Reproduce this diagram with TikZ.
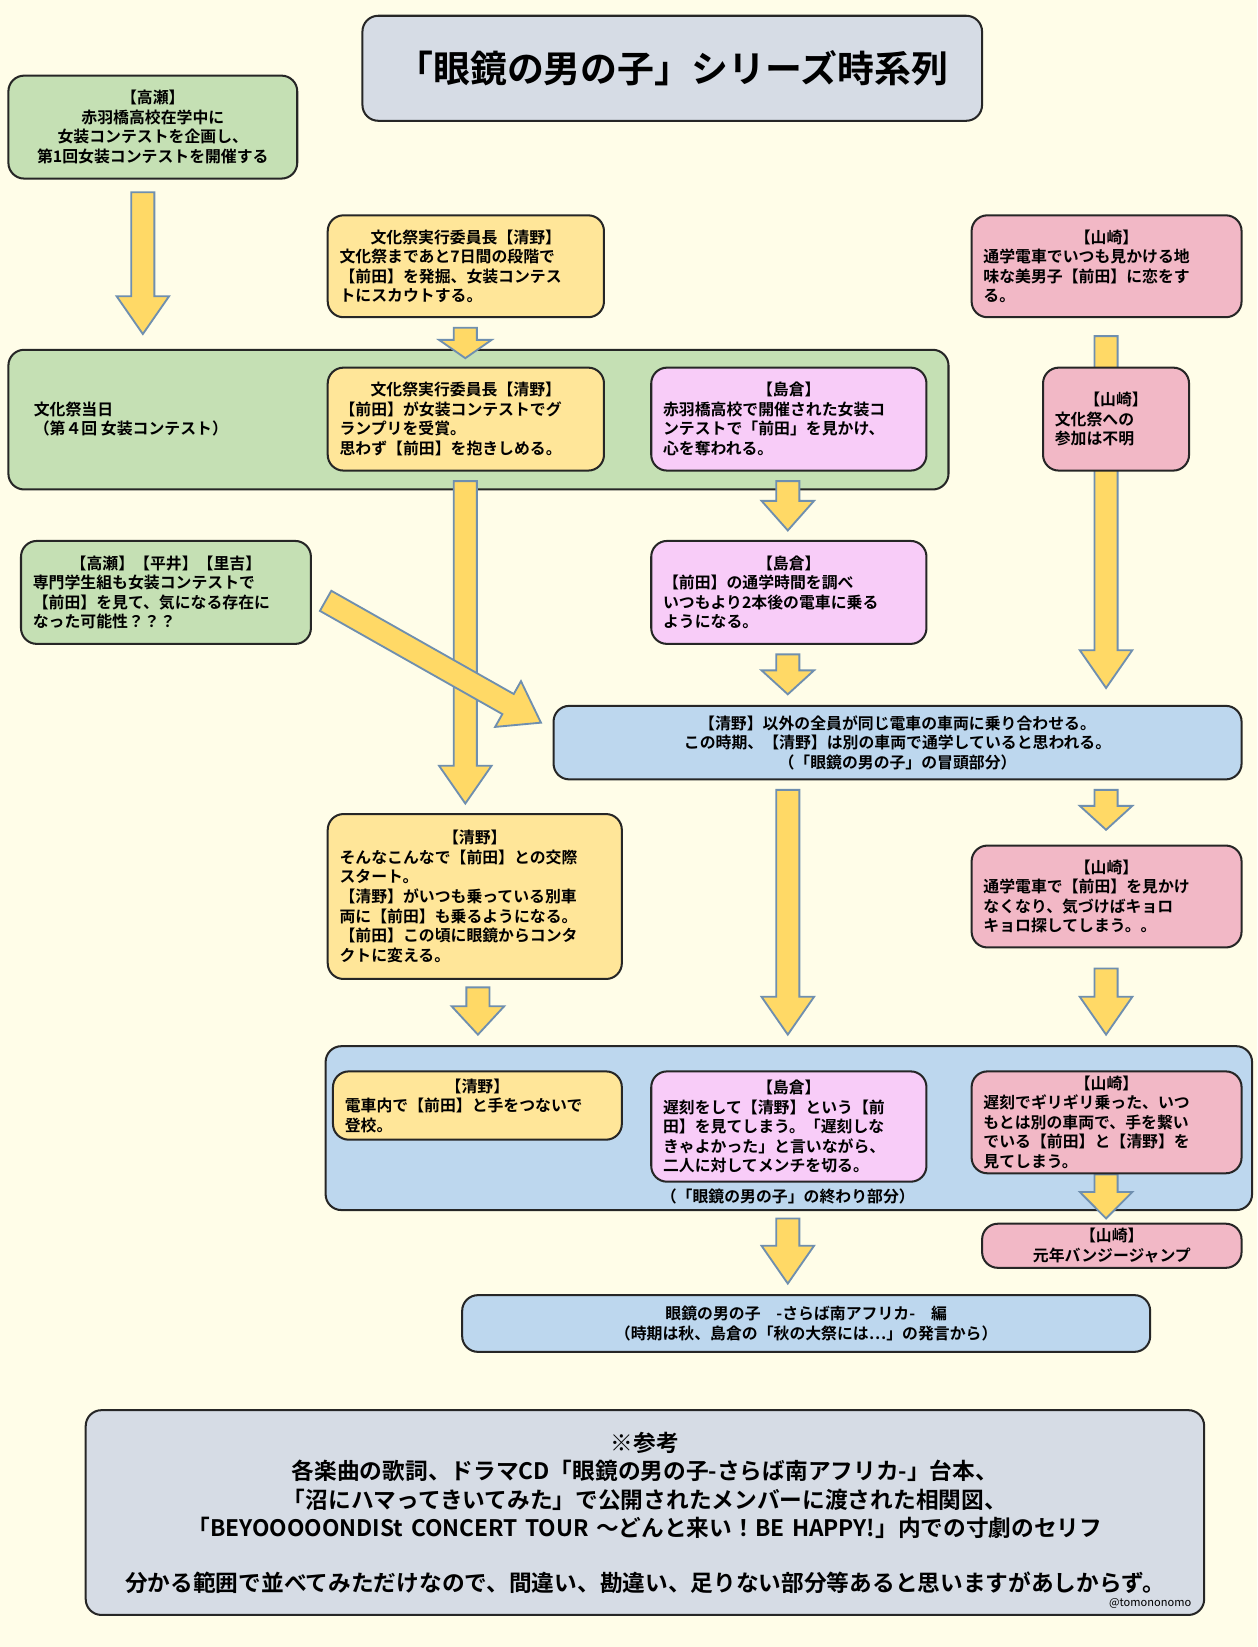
\documentclass[tikz,border=0pt]{standalone}
\usepackage{fontspec}
\setmainfont{Noto Sans CJK JP}[BoldFont={Noto Sans CJK JP Bold}]
\definecolor{bg}{HTML}{FFFDE8}
\definecolor{cgreen}{HTML}{C5E0B4}
\definecolor{cyellow}{HTML}{FFE699}
\definecolor{cmag}{HTML}{F8CCF8}
\definecolor{cpink}{HTML}{F2B8C6}
\definecolor{cblue}{HTML}{BDD7EE}
\definecolor{cgray}{HTML}{D6DCE5}
\definecolor{afill}{HTML}{FFD966}
\definecolor{aline}{HTML}{6F8FAF}
\tikzset{
  box/.style={draw=black!85, line width=1.1pt, rounded corners=0.3cm, inner sep=0pt, font=\bfseries\fontsize{8.6}{10.6}\selectfont},
  fat/.style={fill=afill, draw=aline, line width=1pt, line join=miter}
}
\newcommand{\hd}[1]{\makebox[\linewidth][c]{#1}}
% \bx{name}{x1}{y1}{x2}{y2}{fill}{align}{text}
\newcommand{\bx}[8]{%
  \pgfmathsetmacro\bw{(#4-#2)*0.02}\pgfmathsetmacro\bh{(#5-#3)*0.02}\pgfmathsetmacro\tw{\bw-0.45}%
  \node[box, fill=#6, minimum width=\bw cm, minimum height=\bh cm, text width=\tw cm, align=#7] (#1) at ({(#2+#4)/2},{(#3+#5)/2}) {#8};}
% \farrow{x1}{y1}{x2}{y2}
\newcommand{\farrow}[4]{%
  \pgfmathsetmacro\L{veclen(#3-#1,#4-#2)}%
  \pgfmathsetmacro\ux{(#3-#1)/\L}\pgfmathsetmacro\uy{(#4-#2)/\L}%
  \pgfmathsetmacro\nx{-\uy}\pgfmathsetmacro\ny{\ux}%
  \pgfmathsetmacro\hl{min(36,\L*0.6)}%
  \pgfmathsetmacro\m{\L-\hl}%
  \draw[fat] ({#1+11*\nx},{#2+11*\ny}) -- ({#1+\m*\ux+11*\nx},{#2+\m*\uy+11*\ny})
   -- ({#1+\m*\ux+25*\nx},{#2+\m*\uy+25*\ny}) -- (#3,#4)
   -- ({#1+\m*\ux-25*\nx},{#2+\m*\uy-25*\ny}) -- ({#1+\m*\ux-11*\nx},{#2+\m*\uy-11*\ny})
   -- ({#1-11*\nx},{#2-11*\ny}) -- cycle;}
\begin{document}
\begin{tikzpicture}[x=0.02cm,y=-0.02cm]
\fill[bg] (0,0) rectangle (1197,1568);
\useasboundingbox (0,0) rectangle (1197,1568);
% groups
\draw[box, fill=cgreen] (8,333) rectangle (903,466);
\node[font=\bfseries\fontsize{8.6}{10.6}\selectfont, align=left, anchor=west] (g1t) at (26,399) {文化祭当日\\（第４回 女装コンテスト）};
\draw[box, fill=cblue] (310,996) rectangle (1192,1152);
\node[font=\bfseries\fontsize{8.6}{10}\selectfont] (g2t) at (750,1139) {（「眼鏡の男の子」の終わり部分）};
% arrows
\farrow{136}{183}{136}{318}
\farrow{443}{312}{443}{341}
\farrow{1053}{320}{1053}{655}
\farrow{443}{458}{443}{765}
\farrow{750}{458}{750}{505}
\farrow{750}{623}{750}{661}
\farrow{310}{572}{515}{688}
\farrow{1053}{752}{1053}{790}
\farrow{750}{752}{750}{985}
\farrow{455}{940}{455}{985}
\farrow{1053}{922}{1053}{985}
\farrow{1053}{1118}{1053}{1160}
\farrow{750}{1160}{750}{1222}
% title
\node[box, fill=cgray, minimum width=11.8cm, minimum height=2cm, font=\bfseries\fontsize{20}{24}\selectfont] (title) at (640,65) {「眼鏡の男の子」シリーズ時系列};
% boxes
\bx{b1}{8}{72}{283}{170}{cgreen}{center}{【高瀬】\\赤羽橋高校在学中に\\女装コンテストを企画し、\\第1回女装コンテストを開催する}
\bx{b2}{312}{205}{575}{302}{cyellow}{left}{\hd{文化祭実行委員長【清野】}\\文化祭まであと7日間の段階で\\【前田】を発掘、女装コンテス\\トにスカウトする。}
\bx{b3}{925}{205}{1182}{302}{cpink}{left}{\hd{【山崎】}\\通学電車でいつも見かける地\\味な美男子【前田】に恋をす\\る。}
\bx{b4}{312}{350}{575}{448}{cyellow}{left}{\hd{文化祭実行委員長【清野】}\\【前田】が女装コンテストでグ\\ランプリを受賞。\\思わず【前田】を抱きしめる。}
\bx{b5}{620}{350}{882}{448}{cmag}{left}{\hd{【島倉】}\\赤羽橋高校で開催された女装コ\\ンテストで「前田」を見かけ、\\心を奪われる。}
\bx{b6}{993}{350}{1132}{448}{cpink}{left}{\hd{【山崎】}\\文化祭への\\参加は不明}
\bx{b7}{620}{515}{882}{613}{cmag}{left}{\hd{【島倉】}\\【前田】の通学時間を調べ\\いつもより2本後の電車に乗る\\ようになる。}
\bx{b8}{20}{515}{296}{613}{cgreen}{left}{\hd{【高瀬】【平井】【里吉】}\\専門学生組も女装コンテストで\\【前田】を見て、気になる存在に\\なった可能性？？？}
\bx{b9}{527}{672}{1182}{742}{cblue}{center}{【清野】以外の全員が同じ電車の車両に乗り合わせる。\\この時期、【清野】は別の車両で通学していると思われる。\\（「眼鏡の男の子」の冒頭部分）}
\bx{b10}{312}{775}{592}{932}{cyellow}{left}{\hd{【清野】}\\そんなこんなで【前田】との交際\\スタート。\\【清野】がいつも乗っている別車\\両に【前田】も乗るようになる。\\【前田】この頃に眼鏡からコンタ\\クトに変える。\\[4pt]}
\bx{b11}{925}{805}{1182}{902}{cpink}{left}{\hd{【山崎】}\\通学電車で【前田】を見かけ\\なくなり、気づけばキョロ\\キョロ探してしまう。。}
\bx{b12}{317}{1020}{592}{1085}{cyellow}{left}{\hd{【清野】}\\電車内で【前田】と手をつないで\\登校。}
\bx{b13}{620}{1020}{882}{1125}{cmag}{left}{\hd{【島倉】}\\遅刻をして【清野】という【前\\田】を見てしまう。「遅刻しな\\きゃよかった」と言いながら、\\二人に対してメンチを切る。}
\bx{b14}{925}{1020}{1182}{1117}{cpink}{left}{\hd{【山崎】}\\遅刻でギリギリ乗った、いつ\\もとは別の車両で、手を繋い\\でいる【前田】と【清野】を\\見てしまう。}
\bx{b15}{935}{1165}{1182}{1207}{cpink}{center}{【山崎】\\元年バンジージャンプ}
\bx{b16}{440}{1233}{1095}{1287}{cblue}{center}{眼鏡の男の子　-さらば南アフリカ-　編\\（時期は秋、島倉の「秋の大祭には…」の発言から）}
\node[box, fill=cgray, minimum width=21.3cm, minimum height=3.9cm, text width=21cm, align=center, font=\bfseries\fontsize{12.3}{15.5}\selectfont] (b17) at (614,1440) {※参考\\各楽曲の歌詞、ドラマCD「眼鏡の男の子-さらば南アフリカ-」台本、\\「沼にハマってきいてみた」で公開されたメンバーに渡された相関図、\\「BEYOOOOONDISt CONCERT TOUR ～どんと来い！BE HAPPY!」内での寸劇のセリフ\\[14pt]分かる範囲で並べてみただけなので、間違い、勘違い、足りない部分等あると思いますがあしからず。};
\node[font=\fontsize{6}{7}\selectfont] (cr) at (1095,1527) {@tomononomo};
\end{tikzpicture}
\end{document}
